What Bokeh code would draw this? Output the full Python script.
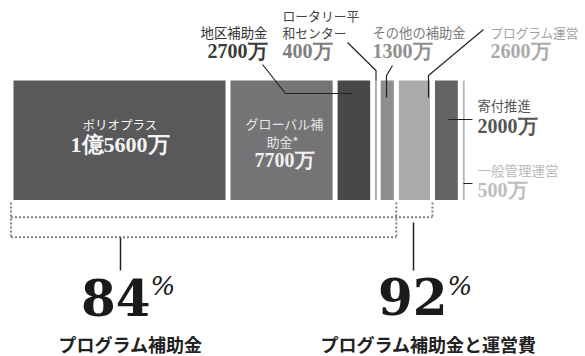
from bokeh.plotting import figure
from bokeh.models import Range1d
from bokeh.embed import file_html
from bokeh.resources import INLINE
from bokeh.core.properties import value
import numpy as np

# ---- data (単位: 万ドル) ----
categories = ["ポリオプラス", "グローバル補助金*", "地区補助金", "ロータリー平和センター",
              "その他の補助金", "プログラム運営", "寄付推進", "一般管理運営"]
values = [15600, 7700, 2700, 400, 1300, 2600, 2000, 500]
value_labels = ["1億5600万", "7700万", "2700万", "400万", "1300万", "2600万", "2000万", "500万"]
shares = [84, 92]
share_labels = ["プログラム補助金", "プログラム補助金と運営費"]
share_groups = [5, 6]   # number of leading categories in each share

bar_colors = ["#59595b", "#747476", "#48484a", "#9c9c9e",
              "#8e8e90", "#ababad", "#636366", "#b9b9c1"]

OFF = 0              # page offset of the figure
W, H = 585, 356
K = 0.01391          # px per 万
def X(px):           # page px -> data x
    return (px - 13) / K

p = figure(width=W, height=H, output_backend="svg", toolbar_location=None,
           x_range=Range1d(X(OFF), X(OFF + W)), y_range=Range1d(OFF + H, OFF),
           min_border=0)
p.axis.visible = False
p.grid.visible = False
p.outline_line_color = None
p.background_fill_color = "white"
p.border_fill_color = "white"

cum = np.concatenate([[0], np.cumsum(values)])
GAP = 5 / K
MINW = 1.6 / K
left = cum[:-1]
right = np.maximum(cum[1:] - GAP, left + MINW)
p.quad(left=left, right=right, top=80, bottom=199.5, fill_color=bar_colors, line_color=None)

# ---- leader lines ----
lx = [[262, 285, 351], [347, 375.5, 375.5], [392, 386, 386], [483, 428, 428],
      [448, 472], [463, 472]]
ly = [[64, 93, 93], [42, 70, 80], [65, 75, 97], [29, 75, 97], [119, 119], [183, 183]]
p.multi_line(xs=[[X(v) for v in a] for a in lx], ys=ly, line_color="#222222", line_width=1.2)

# ---- dotted brackets ----
bl = -GAP / 2
b1 = cum[share_groups[0]] - GAP / 2
b2 = cum[share_groups[1]] - GAP / 2
p.multi_line(xs=[[bl, bl], [bl, b1], [b1, b1], [bl, b2], [b2, b2]],
             ys=[[202, 237], [236.7, 236.7], [202, 236.7], [216.7, 216.7], [202, 216.7]],
             line_color="#808080", line_width=2, line_dash="2 2")
p.multi_line(xs=[[X(120), X(120)], [X(413), X(413)]], ys=[[237, 270], [222, 270]],
             line_color="#222222", line_width=1.5)

CJK = value("Noto Sans CJK JP")
SER = value("Liberation Serif")

def txt(x, y, s, size, color, font=CJK, align="left", base="middle", style="normal"):
    p.text(x=[X(x)], y=[y], text=[s], text_font=font, text_font_size=f"{size}px",
           text_color=color, text_align=align, text_baseline=base, text_font_style=style)

# category labels
txt(119.5, 124, "ポリオプラス", 12.5, "#f4f4f4", align="center")
txt(284, 123, "グローバル補", 13, "#e6e6e6", align="center")
txt(282, 141, "助金*", 13, "#e6e6e6", align="center")
txt(267, 31, categories[2], 13.4, "#333333", align="right")
txt(282, 15, "ロータリー平", 12.8, "#444444")
txt(282, 32, "和センター", 12.8, "#444444")
txt(372, 32, categories[4], 13.3, "#7a7a7a")
txt(490, 32, categories[5], 12.6, "#a0a0a0")
txt(477, 105, categories[6], 13.3, "#555555")
txt(477, 169, categories[7], 13.5, "#bbbbbb")

# values
txt(119.5, 143.5, value_labels[0], 22, "#f4f4f4", font=SER, align="center", style="bold")
txt(284, 159.5, value_labels[1], 20, "#f0f0f0", font=SER, align="center", style="bold")
txt(267, 50.5, value_labels[2], 20, "#3a3a3a", font=SER, align="right", style="bold")
txt(282, 50.5, value_labels[3], 20, "#7d7d7d", font=SER, style="bold")
txt(372, 50.5, value_labels[4], 20, "#8f8f8f", font=SER, style="bold")
txt(490, 50.5, value_labels[5], 20, "#aaaaaa", font=SER, style="bold")
txt(477, 125.5, value_labels[6], 20, "#555555", font=SER, style="bold")
txt(477, 189, value_labels[7], 20, "#bdbdbd", font=SER, style="bold")

# big shares
BIG = value("DejaVu Serif")
txt(150, 296.5, str(shares[0]), 50, "#1a1a1a", font=BIG, align="right", style="bold")
txt(150, 285, "%", 26, "#1a1a1a", font=BIG, style="italic")
txt(447, 295.5, str(shares[1]), 50, "#1a1a1a", font=BIG, align="right", style="bold")
txt(447, 285, "%", 26, "#1a1a1a", font=BIG, style="italic")
txt(130, 343, share_labels[0], 18, "#222222", align="center", style="bold")
txt(428, 343, share_labels[1], 18, "#222222", align="center", style="bold")

open("out.html", "w").write(file_html(p, INLINE))
